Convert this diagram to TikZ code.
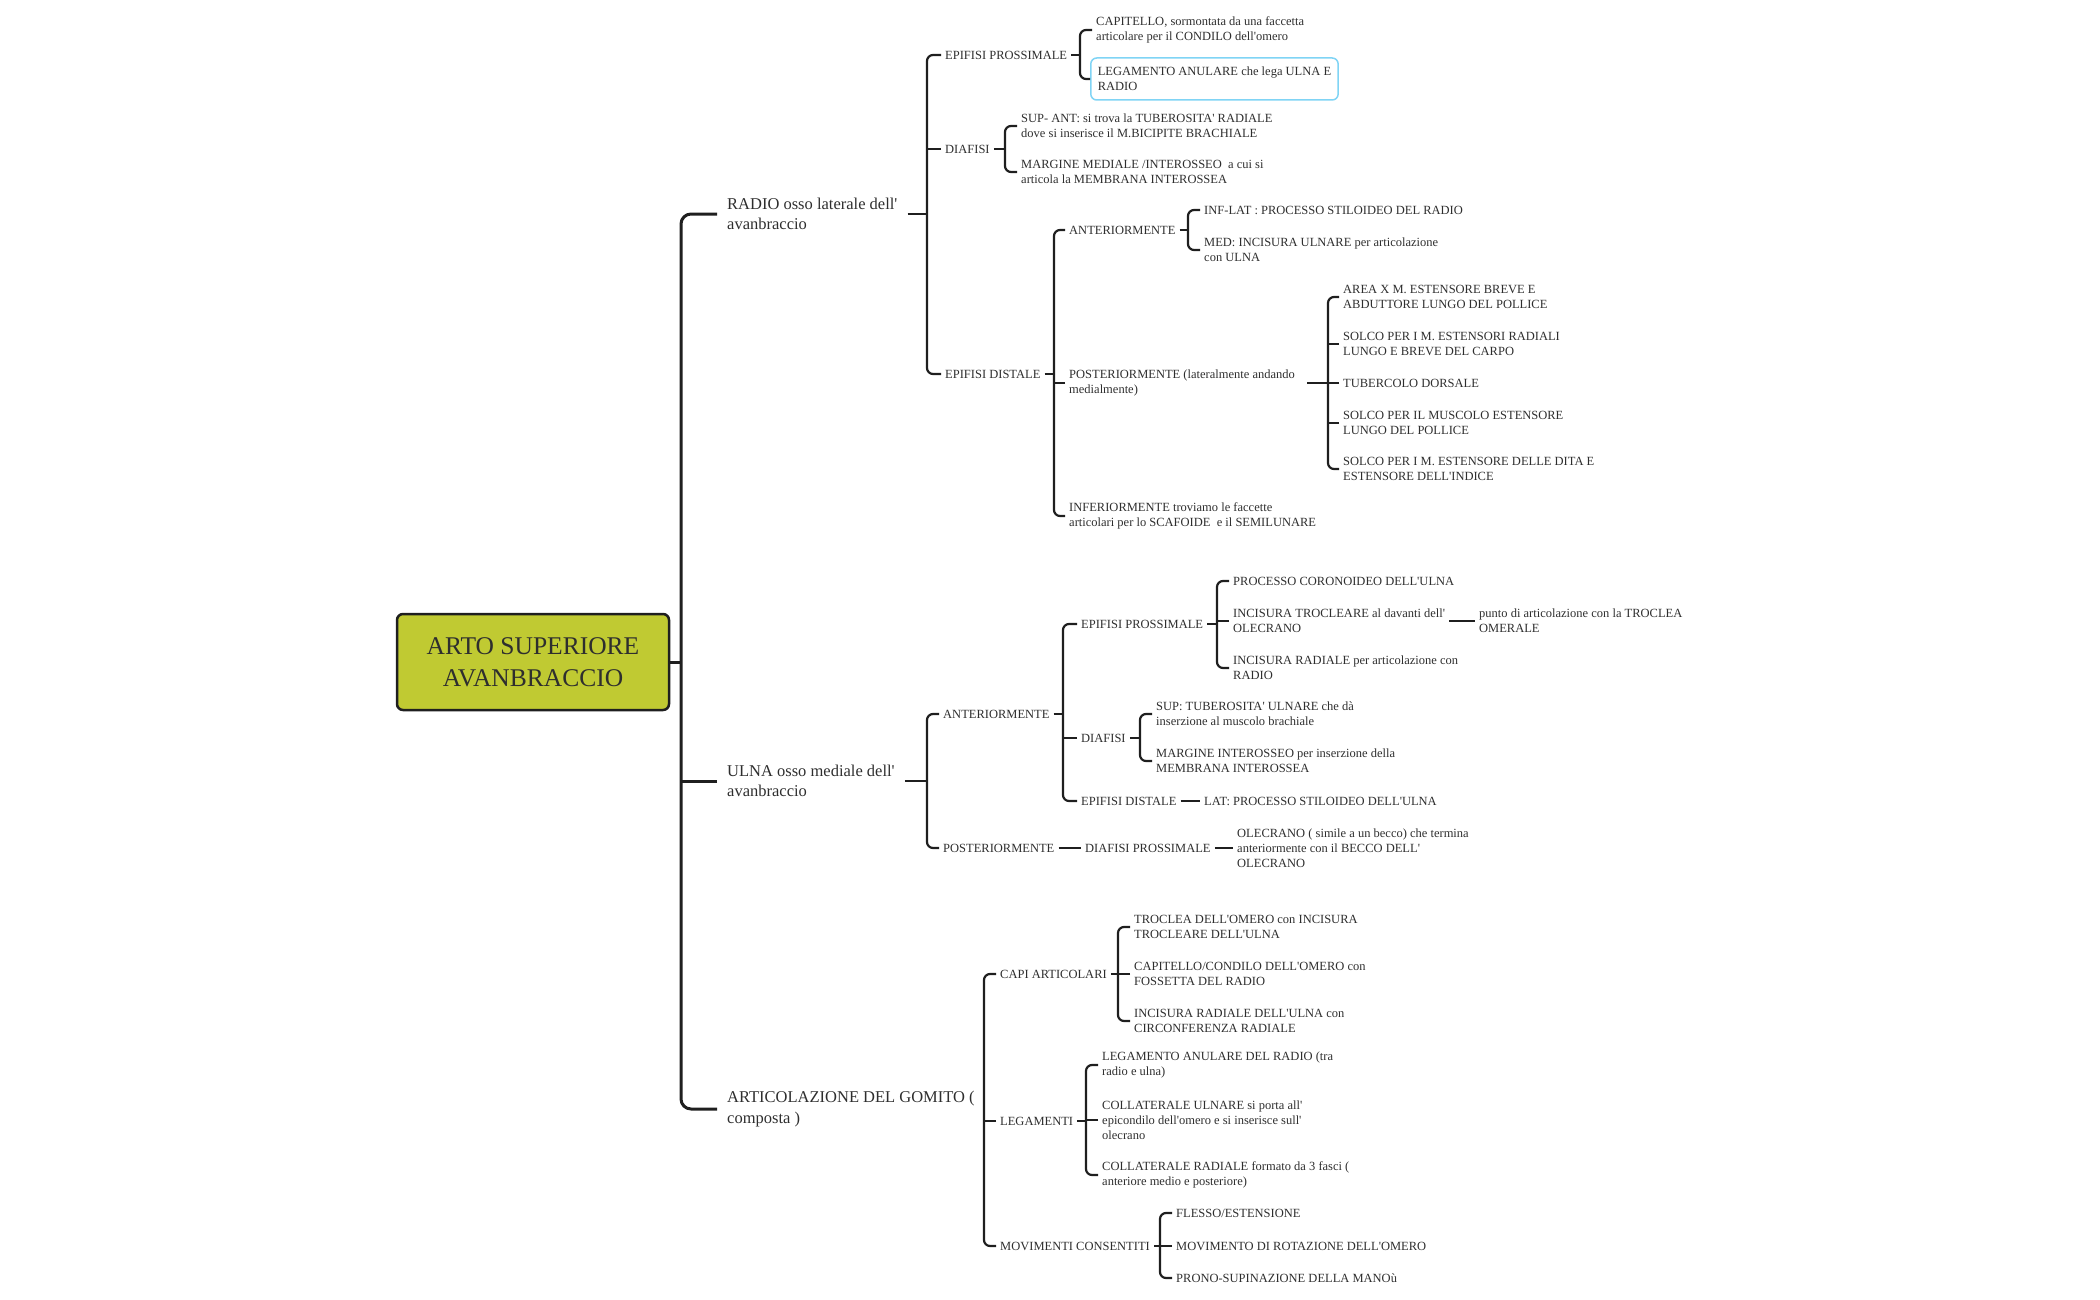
\documentclass[tikz,border=0pt]{standalone}
\usepackage{fontspec}
\setmainfont{Liberation Serif}[Ligatures=TeXOff]
\definecolor{txt}{HTML}{2E2E2E}
\definecolor{lc}{HTML}{1F1F1F}
\definecolor{rootfill}{RGB}{192,202,50}
\definecolor{bluebd}{RGB}{128,212,245}
\begin{document}
\begin{tikzpicture}[x=1pt,y=-1pt,
  t/.style={font=\fontsize{12.5}{14.8}\selectfont, align=left, anchor=west, inner xsep=4pt, inner ysep=1pt, text=txt},
  tl/.style={font=\fontsize{16.5}{20.5}\selectfont, align=left, anchor=west, inner xsep=10pt, inner ysep=1pt, text=txt},
  ln/.style={draw=lc, line width=2.2pt, rounded corners=6pt},
  lnk/.style={draw=lc, line width=3pt, rounded corners=10pt},
  rootbox/.style={draw=lc, fill=rootfill, line width=2.5pt, rounded corners=6pt, minimum width=272pt, minimum height=96pt, align=center, font=\fontsize{25.5}{32}\selectfont, text=txt},
  bluebox/.style={t, draw=bluebd, line width=1.5pt, rounded corners=6pt, minimum width=247pt, minimum height=42pt, inner xsep=7pt, fill=white}
]
\useasboundingbox (0,0) rectangle (2100,1300);

% bracket x-positions
\coordinate (b0) at (681,0);
\coordinate (bR) at (927,0);
\coordinate (bRep) at (1080,0);
\coordinate (bRdi) at (1005,0);
\coordinate (bRed) at (1054,0);
\coordinate (bRea) at (1188,0);
\coordinate (bRpo) at (1328,0);
\coordinate (bU) at (927,0);
\coordinate (bUa) at (1063,0);
\coordinate (bUep) at (1217,0);
\coordinate (bUdi) at (1140,0);
\coordinate (bA) at (984,0);
\coordinate (bAca) at (1118,0);
\coordinate (bAle) at (1086,0);
\coordinate (bAmo) at (1160,0);

% root
\node[rootbox] (root) at (533,662) {ARTO SUPERIORE\\ AVANBRACCIO};

% level 1
\node[tl] (r) at (717,214) {RADIO osso laterale dell'\\avanbraccio};
\node[tl] (u) at (717,781) {ULNA osso mediale dell'\\avanbraccio};
\node[tl] (a) at (717,1109) {ARTICOLAZIONE DEL GOMITO (\\composta )};

% RADIO
\node[t] (rep) at (941,55) {EPIFISI PROSSIMALE};
\node[t] (rdi) at (941,149) {DIAFISI};
\node[t] (red) at (941,374) {EPIFISI DISTALE};

\node[t] (rep1) at (1092,30) {CAPITELLO, sormontata da una faccetta\\articolare per il CONDILO dell'omero};
\node[bluebox] (rep2) at (1090,79) {LEGAMENTO ANULARE che lega ULNA E\\RADIO};

\node[t] (rdi1) at (1017,126) {SUP- ANT: si trova la TUBEROSITA' RADIALE\\dove si inserisce il M.BICIPITE BRACHIALE};
\node[t] (rdi2) at (1017,172) {MARGINE MEDIALE /INTEROSSEO\ \ a cui si\\articola la MEMBRANA INTEROSSEA};

\node[t] (rea) at (1065,230) {ANTERIORMENTE};
\node[t] (rpo) at (1065,383) {POSTERIORMENTE (lateralmente andando\\medialmente)};
\node[t] (rei) at (1065,516) {INFERIORMENTE troviamo le faccette\\articolari per lo SCAFOIDE\ \ e il SEMILUNARE};

\node[t] (rea1) at (1200,210) {INF-LAT : PROCESSO STILOIDEO DEL RADIO};
\node[t] (rea2) at (1200,250) {MED: INCISURA ULNARE per articolazione\\con ULNA};

\node[t] (rpo1) at (1339,297) {AREA X M. ESTENSORE BREVE E\\ABDUTTORE LUNGO DEL POLLICE};
\node[t] (rpo2) at (1339,344) {SOLCO PER I M. ESTENSORI RADIALI\\LUNGO E BREVE DEL CARPO};
\node[t] (rpo3) at (1339,383) {TUBERCOLO DORSALE};
\node[t] (rpo4) at (1339,423) {SOLCO PER IL MUSCOLO ESTENSORE\\LUNGO DEL POLLICE};
\node[t] (rpo5) at (1339,469) {SOLCO PER I M. ESTENSORE DELLE DITA E\\ESTENSORE DELL'INDICE};

% ULNA
\node[t] (ua) at (939,714) {ANTERIORMENTE};
\node[t] (up) at (939,848) {POSTERIORMENTE};

\node[t] (uep) at (1077,624) {EPIFISI PROSSIMALE};
\node[t] (udi) at (1077,738) {DIAFISI};
\node[t] (ued) at (1077,801) {EPIFISI DISTALE};

\node[t] (uep1) at (1229,581) {PROCESSO CORONOIDEO DELL'ULNA};
\node[t] (uep2) at (1229,621) {INCISURA TROCLEARE al davanti dell'\\OLECRANO};
\node[t] (uep3) at (1229,668) {INCISURA RADIALE per articolazione con\\RADIO};
\node[t] (uep2a) at (1475,621) {punto di articolazione con la TROCLEA\\OMERALE};

\node[t] (udi1) at (1152,714) {SUP: TUBEROSITA' ULNARE che dà\\inserzione al muscolo brachiale};
\node[t] (udi2) at (1152,761) {MARGINE INTEROSSEO per inserzione della\\MEMBRANA INTEROSSEA};

\node[t] (ued1) at (1200,801) {LAT: PROCESSO STILOIDEO DELL'ULNA};

\node[t] (upd) at (1081,848) {DIAFISI PROSSIMALE};
\node[t] (upo) at (1233,848) {OLECRANO ( simile a un becco) che termina\\anteriormente con il BECCO DELL'\\OLECRANO};

% ARTICOLAZIONE
\node[t] (aca) at (996,974) {CAPI ARTICOLARI};
\node[t] (ale) at (996,1121) {LEGAMENTI};
\node[t] (amo) at (996,1246) {MOVIMENTI CONSENTITI};

\node[t] (aca1) at (1130,927) {TROCLEA DELL'OMERO con INCISURA\\TROCLEARE DELL'ULNA};
\node[t] (aca2) at (1130,974) {CAPITELLO/CONDILO DELL'OMERO con\\FOSSETTA DEL RADIO};
\node[t] (aca3) at (1130,1021) {INCISURA RADIALE DELL'ULNA con\\CIRCONFERENZA RADIALE};

\node[t] (ale1) at (1098,1065) {LEGAMENTO ANULARE DEL RADIO (tra\\radio e ulna)};
\node[t] (ale2) at (1098,1120) {COLLATERALE ULNARE si porta all'\\epicondilo dell'omero e si inserisce sull'\\olecrano};
\node[t] (ale3) at (1098,1175) {COLLATERALE RADIALE formato da 3 fasci (\\anteriore medio e posteriore)};

\node[t] (amo1) at (1172,1213) {FLESSO/ESTENSIONE};
\node[t] (amo2) at (1172,1246) {MOVIMENTO DI ROTAZIONE DELL'OMERO};
\node[t] (amo3) at (1172,1278) {PRONO-SUPINAZIONE DELLA MANOù};

% ---------- connectors ----------
% trunk
\draw[lnk] (root.east) -- (root.east -| b0);
\draw[lnk] (r.west) -- (r.west -| b0) -- (a.west -| b0) -- (a.west);
\draw[lnk] (u.west) -- (u.west -| b0);

% RADIO
\draw[ln] (r.east) -- (r.east -| bR);
\draw[ln] (rep.west) -- (rep.west -| bR) -- (red.west -| bR) -- (red.west);
\draw[ln] (rdi.west) -- (rdi.west -| bR);

\draw[ln] (rep.east) -- (rep.east -| bRep);
\draw[ln] (rep1.west) -- (rep1.west -| bRep) -- (rep2.west -| bRep) -- (rep2.west);

\draw[ln] (rdi.east) -- (rdi.east -| bRdi);
\draw[ln] (rdi1.west) -- (rdi1.west -| bRdi) -- (rdi2.west -| bRdi) -- (rdi2.west);

\draw[ln] (red.east) -- (red.east -| bRed);
\draw[ln] (rea.west) -- (rea.west -| bRed) -- (rei.west -| bRed) -- (rei.west);
\draw[ln] (rpo.west) -- (rpo.west -| bRed);

\draw[ln] (rea.east) -- (rea.east -| bRea);
\draw[ln] (rea1.west) -- (rea1.west -| bRea) -- (rea2.west -| bRea) -- (rea2.west);

\draw[ln] ([xshift=8pt]rpo.east) -- (rpo.east -| bRpo);
\draw[ln] (rpo1.west) -- (rpo1.west -| bRpo) -- (rpo5.west -| bRpo) -- (rpo5.west);
\draw[ln] (rpo2.west) -- (rpo2.west -| bRpo);
\draw[ln] (rpo3.west) -- (rpo3.west -| bRpo);
\draw[ln] (rpo4.west) -- (rpo4.west -| bRpo);

% ULNA
\draw[ln] (u.east) -- (u.east -| bU);
\draw[ln] (ua.west) -- (ua.west -| bU) -- (up.west -| bU) -- (up.west);

\draw[ln] (ua.east) -- (ua.east -| bUa);
\draw[ln] (uep.west) -- (uep.west -| bUa) -- (ued.west -| bUa) -- (ued.west);
\draw[ln] (udi.west) -- (udi.west -| bUa);

\draw[ln] (uep.east) -- (uep.east -| bUep);
\draw[ln] (uep1.west) -- (uep1.west -| bUep) -- (uep3.west -| bUep) -- (uep3.west);
\draw[ln] (uep2.west) -- (uep2.west -| bUep);
\draw[ln] (uep2.east) -- (uep2a.west);

\draw[ln] (udi.east) -- (udi.east -| bUdi);
\draw[ln] (udi1.west) -- (udi1.west -| bUdi) -- (udi2.west -| bUdi) -- (udi2.west);

\draw[ln] (ued.east) -- (ued1.west);
\draw[ln] (up.east) -- (upd.west);
\draw[ln] (upd.east) -- (upo.west);

% ARTICOLAZIONE
\draw[ln] (a.east) -- (a.east -| bA);
\draw[ln] (aca.west) -- (aca.west -| bA) -- (amo.west -| bA) -- (amo.west);
\draw[ln] (ale.west) -- (ale.west -| bA);

\draw[ln] (aca.east) -- (aca.east -| bAca);
\draw[ln] (aca1.west) -- (aca1.west -| bAca) -- (aca3.west -| bAca) -- (aca3.west);
\draw[ln] (aca2.west) -- (aca2.west -| bAca);

\draw[ln] (ale.east) -- (ale.east -| bAle);
\draw[ln] (ale1.west) -- (ale1.west -| bAle) -- (ale3.west -| bAle) -- (ale3.west);
\draw[ln] (ale2.west) -- (ale2.west -| bAle);

\draw[ln] (amo.east) -- (amo.east -| bAmo);
\draw[ln] (amo1.west) -- (amo1.west -| bAmo) -- (amo3.west -| bAmo) -- (amo3.west);
\draw[ln] (amo2.west) -- (amo2.west -| bAmo);
\end{tikzpicture}
\end{document}
